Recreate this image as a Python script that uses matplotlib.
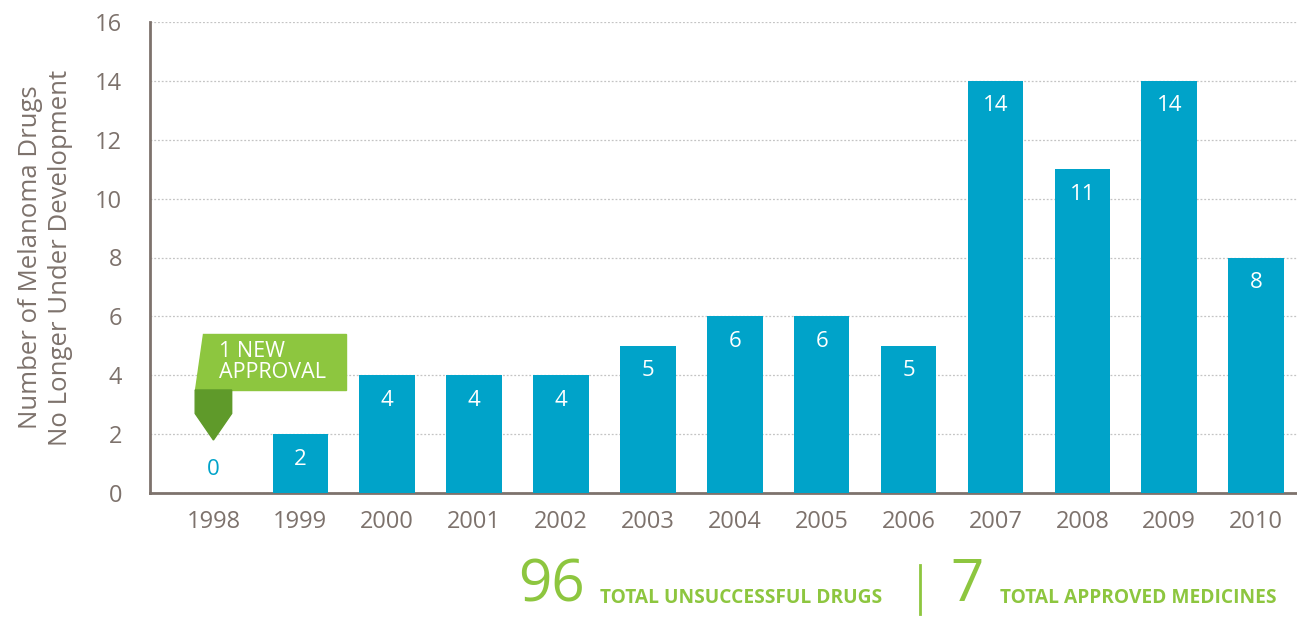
import matplotlib
matplotlib.use("Agg")
import matplotlib.pyplot as plt
from matplotlib.patches import Polygon

years = ["1998", "1999", "2000", "2001", "2002", "2003", "2004",
         "2005", "2006", "2007", "2008", "2009", "2010"]
failed = [0, 2, 4, 4, 4, 5, 6, 6, 5, 14, 11, 14, 8]
yticks = [0, 2, 4, 6, 8, 10, 12, 14, 16]
total_failed = 96
total_approved = 7

blue = "#00a3c9"
green = "#8dc63f"
dark_green = "#5f9a2a"
gray = "#7d726c"

plt.rcParams["font.family"] = ["Open Sans", "DejaVu Sans"]

fig = plt.figure(figsize=(12.97, 6.17), dpi=100)
ax = fig.add_axes([150 / 1297, 1 - 493 / 617, 1 - 150 / 1297, (493 - 22) / 617])

x = list(range(len(years)))
ax.bar(x, failed, width=0.64, color=blue, zorder=3)

for i, v in enumerate(failed):
    if v > 0:
        ax.text(i, v - 0.85, str(v), ha="center", va="center",
                color="white", fontsize=16, zorder=4)
    else:
        ax.text(i, 0.8, str(v), ha="center", va="center",
                color=blue, fontsize=16, zorder=4)

ax.set_xlim(-0.73, 12.47)
ax.set_ylim(0, 16)
ax.set_yticks(yticks)
ax.set_xticks(x)
ax.set_xticklabels(years)
ax.tick_params(axis="both", length=0, colors=gray, labelsize=17)
ax.tick_params(axis="x", pad=12)
ax.tick_params(axis="y", pad=20)
ax.grid(axis="y", color="#c4c4c4", linestyle=(0, (1.5, 1.5)), linewidth=0.9, zorder=0)
for s in ["top", "right"]:
    ax.spines[s].set_visible(False)
for s in ["left", "bottom"]:
    ax.spines[s].set_color(gray)
    ax.spines[s].set_linewidth(2)

ax.set_ylabel("Number of Melanoma Drugs\nNo Longer Under Development",
              color=gray, fontsize=18.5, linespacing=1.25, labelpad=16)

# approval flag
banner = Polygon([(-0.12, 5.4), (1.52, 5.4), (1.52, 3.5), (-0.21, 3.5)],
                 closed=True, color=green, zorder=5, clip_on=False)
ax.add_patch(banner)
pennant = Polygon([(-0.21, 3.5), (0.21, 3.5), (0.21, 2.7), (0.0, 1.8), (-0.21, 2.7)],
                  closed=True, color=dark_green, zorder=5, clip_on=False)
ax.add_patch(pennant)
ax.text(0.06, 4.45, "1 NEW\nAPPROVAL", color="white", fontsize=15.5,
        ha="left", va="center", linespacing=1.0, zorder=6)

# totals line
fig.text(518 / 1297, 1 - 586 / 617, str(total_failed), color=green,
         fontsize=42, ha="left", va="center")
fig.text(600 / 1297, 1 - 598 / 617, "TOTAL UNSUCCESSFUL DRUGS", color=green,
         fontsize=13.8, fontweight="bold", ha="left", va="center")
fig.add_artist(plt.Line2D([920 / 1297, 920 / 1297], [1 - 565 / 617, 1 - 614 / 617],
                          color=green, linewidth=2))
fig.text(950 / 1297, 1 - 586 / 617, str(total_approved), color=green,
         fontsize=42, ha="left", va="center")
fig.text(1000 / 1297, 1 - 598 / 617, "TOTAL APPROVED MEDICINES", color=green,
         fontsize=13.8, fontweight="bold", ha="left", va="center")

fig.savefig("out.png", dpi=100)
